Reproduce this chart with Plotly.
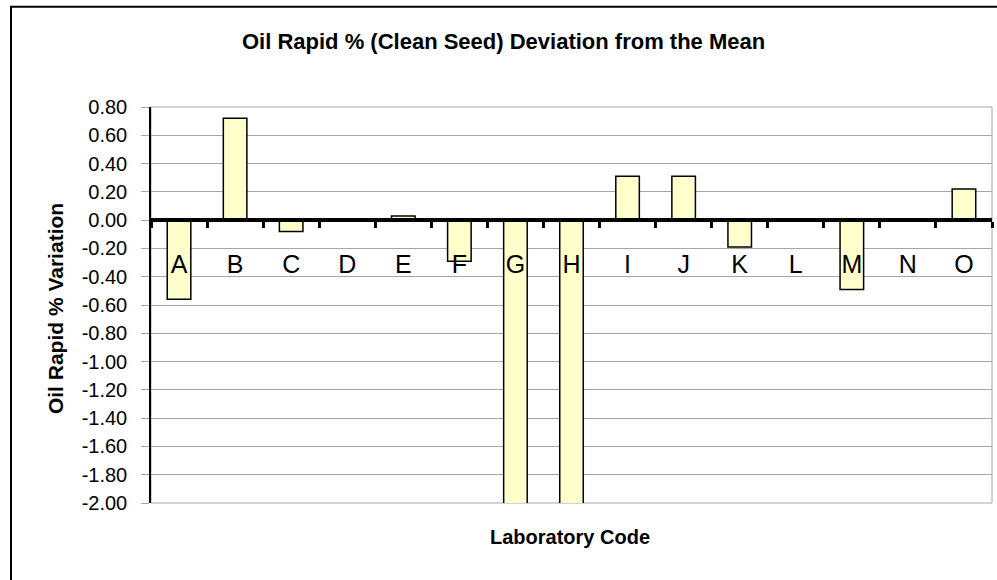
import plotly.graph_objects as go

# ---- data ----
labs = ["A", "B", "C", "D", "E", "F", "G", "H", "I", "J", "K", "L", "M", "N", "O"]
deviation = [-0.56, 0.72, -0.08, 0.0, 0.03, -0.29, -2.60, -2.60, 0.31, 0.31, -0.19, 0.0, -0.49, 0.01, 0.22]
y_tick_vals = [0.8, 0.6, 0.4, 0.2, 0.0, -0.2, -0.4, -0.6, -0.8, -1.0, -1.2, -1.4, -1.6, -1.8, -2.0]
y_tick_text = ["0.80", "0.60", "0.40", "0.20", "0.00", "-0.20", "-0.40", "-0.60", "-0.80",
               "-1.00", "-1.20", "-1.40", "-1.60", "-1.80", "-2.00"]
title_text = "Oil Rapid % (Clean Seed) Deviation from the Mean"
x_title = "Laboratory Code"
y_title = "Oil Rapid % Variation"

W, H = 997, 580
L, R, T, B = 151, 5, 106.5, 76.7
pw, ph = W - L - R, H - T - B
y_min, y_max = -2.0, 0.8

def px_x(x):
    return (x - L) / pw

def px_y(y):
    return (H - B - y) / ph

FONT = "Liberation Sans, Arial, sans-serif"

fig = go.Figure()
fig.add_trace(go.Bar(
    x=labs, y=deviation,
    marker=dict(color="#FFFFCC", line=dict(color="black", width=1.5)),
    width=0.42,
    hoverinfo="x+y",
))

zero_pos = (0 - y_min) / (y_max - y_min)

fig.update_layout(
    width=W, height=H,
    margin=dict(l=L, r=R, t=T, b=B, pad=0),
    paper_bgcolor="white", plot_bgcolor="white",
    showlegend=False,
    font=dict(family=FONT, color="black"),
    xaxis=dict(
        type="category",
        anchor="free", position=zero_pos,
        showline=True, linecolor="black", linewidth=4,
        ticks="outside", tickson="boundaries", ticklen=6, tickwidth=3, tickcolor="black",
        tickfont=dict(size=25, family=FONT, color="black"),
        ticklabelstandoff=21,
        showgrid=False, zeroline=False,
        layer="above traces",
        range=[-0.5, len(labs) - 0.5],
        fixedrange=True,
    ),
    yaxis=dict(
        range=[y_min, y_max],
        tickvals=y_tick_vals, ticktext=y_tick_text,
        showgrid=True, gridcolor="#a6a6a6", gridwidth=1,
        showline=True, linecolor="black", linewidth=1.5,
        ticks="outside", ticklen=8, tickcolor="#a6a6a6", tickwidth=1,
        tickfont=dict(size=20, family=FONT, color="black"),
        ticklabelstandoff=10,
        zeroline=False,
        fixedrange=True,
    ),
    shapes=[
        # plot area border
        dict(type="rect", xref="paper", yref="paper", x0=0, x1=1, y0=0, y1=1,
             line=dict(color="#a6a6a6", width=1), layer="below"),
        # outer chart frame
        dict(type="rect", xref="paper", yref="paper",
             x0=px_x(11), x1=px_x(1005), y0=px_y(590), y1=px_y(6),
             line=dict(color="black", width=2), layer="below"),
    ],
    annotations=[
        dict(text="<b>%s</b>" % title_text, xref="paper", yref="paper",
             x=px_x(503), y=px_y(41), xanchor="center", yanchor="middle",
             showarrow=False, font=dict(size=22, family=FONT)),
        dict(text="<b>%s</b>" % x_title, xref="paper", yref="paper",
             x=px_x(570), y=px_y(537), xanchor="center", yanchor="middle",
             showarrow=False, font=dict(size=20, family=FONT)),
        dict(text="<b>%s</b>" % y_title, xref="paper", yref="paper",
             x=px_x(55), y=px_y(309), xanchor="center", yanchor="middle",
             textangle=-90, showarrow=False, font=dict(size=21, family=FONT)),
    ],
)

fig.write_html("out.html", config={"displayModeBar": False},
               post_script="document.body.style.margin='0';document.body.style.padding='0';")
